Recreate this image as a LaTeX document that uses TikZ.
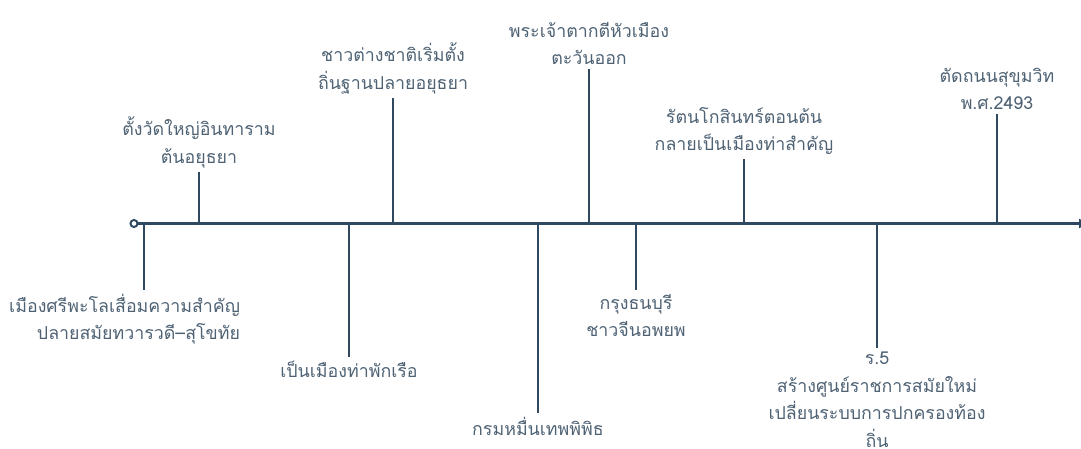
\documentclass[tikz,border=0pt]{standalone}
\usepackage{fontspec}
\newfontfamily\thaifont[Script=Thai]{Loma}
\usetikzlibrary{arrows.meta}
\definecolor{lineblue}{HTML}{2F4A60}
\definecolor{textgray}{HTML}{4E6274}
\tikzset{
  evtext/.style={font=\thaifont\fontsize{17.8}{27.5}\selectfont, text=textgray, align=center, inner xsep=0pt, inner ysep=3pt},
  tick/.style={draw=lineblue, line width=2pt}
}
\begin{document}
\begin{tikzpicture}[x=1pt, y=-1pt, line width=2pt]
  \useasboundingbox (0,0) rectangle (1081,449);
  % timeline
  \coordinate (start) at (134,223.5);
  \coordinate (stop) at (1088,223.5);
  \draw[lineblue, line width=2.5pt, -{Triangle[length=9pt,width=9pt]}] (137.5,223.5) -- (stop);
  \draw[lineblue, line width=2pt, fill=white] (start) circle (3.5);
  % points on the line
  \coordinate (e1) at (144,223.5);
  \coordinate (e2) at (199,223.5);
  \coordinate (e3) at (349,223.5);
  \coordinate (e4) at (393,223.5);
  \coordinate (e5) at (538,223.5);
  \coordinate (e6) at (589,223.5);
  \coordinate (e7) at (636,223.5);
  \coordinate (e8) at (744,223.5);
  \coordinate (e9) at (877,223.5);
  \coordinate (e10) at (997,223.5);
  % labels
  \node[evtext, align=right, anchor=north east] (ev1) at (241,290) {เมืองศรีพะโลเสื่อมความสำคัญ\\ปลายสมัยทวารวดี–สุโขทัย};
  \node[evtext, anchor=south] (ev2) at (199,172) {ตั้งวัดใหญ่อินทาราม\\ต้นอยุธยา};
  \node[evtext, anchor=north] (ev3) at (349,357) {เป็นเมืองท่าพักเรือ};
  \node[evtext, anchor=south] (ev4) at (393,98) {ชาวต่างชาติเริ่มตั้ง\\ถิ่นฐานปลายอยุธยา};
  \node[evtext, anchor=north] (ev5) at (538,413) {กรมหมื่นเทพพิพิธ};
  \node[evtext, anchor=south] (ev6) at (589,69) {พระเจ้าตากตีหัวเมือง\\ตะวันออก};
  \node[evtext, anchor=north] (ev7) at (636,290) {กรุงธนบุรี\\ชาวจีนอพยพ};
  \node[evtext, anchor=south] (ev8) at (744,159) {รัตนโกสินทร์ตอนต้น\\กลายเป็นเมืองท่าสำคัญ};
  \node[evtext, anchor=north] (ev9) at (877,348) {ร.5\\สร้างศูนย์ราชการสมัยใหม่\\เปลี่ยนระบบการปกครองท้อง\\ถิ่น};
  \node[evtext, anchor=south] (ev10) at (997,114) {ตัดถนนสุขุมวิท\\พ.ศ.2493};
  % ticks
  \draw[tick] (e1) -- (e1 |- ev1.north);
  \draw[tick] (e2) -- (ev2);
  \draw[tick] (e3) -- (ev3);
  \draw[tick] (e4) -- (ev4);
  \draw[tick] (e5) -- (ev5);
  \draw[tick] (e6) -- (ev6);
  \draw[tick] (e7) -- (ev7);
  \draw[tick] (e8) -- (ev8);
  \draw[tick] (e9) -- (ev9);
  \draw[tick] (e10) -- (ev10);
\end{tikzpicture}
\end{document}
